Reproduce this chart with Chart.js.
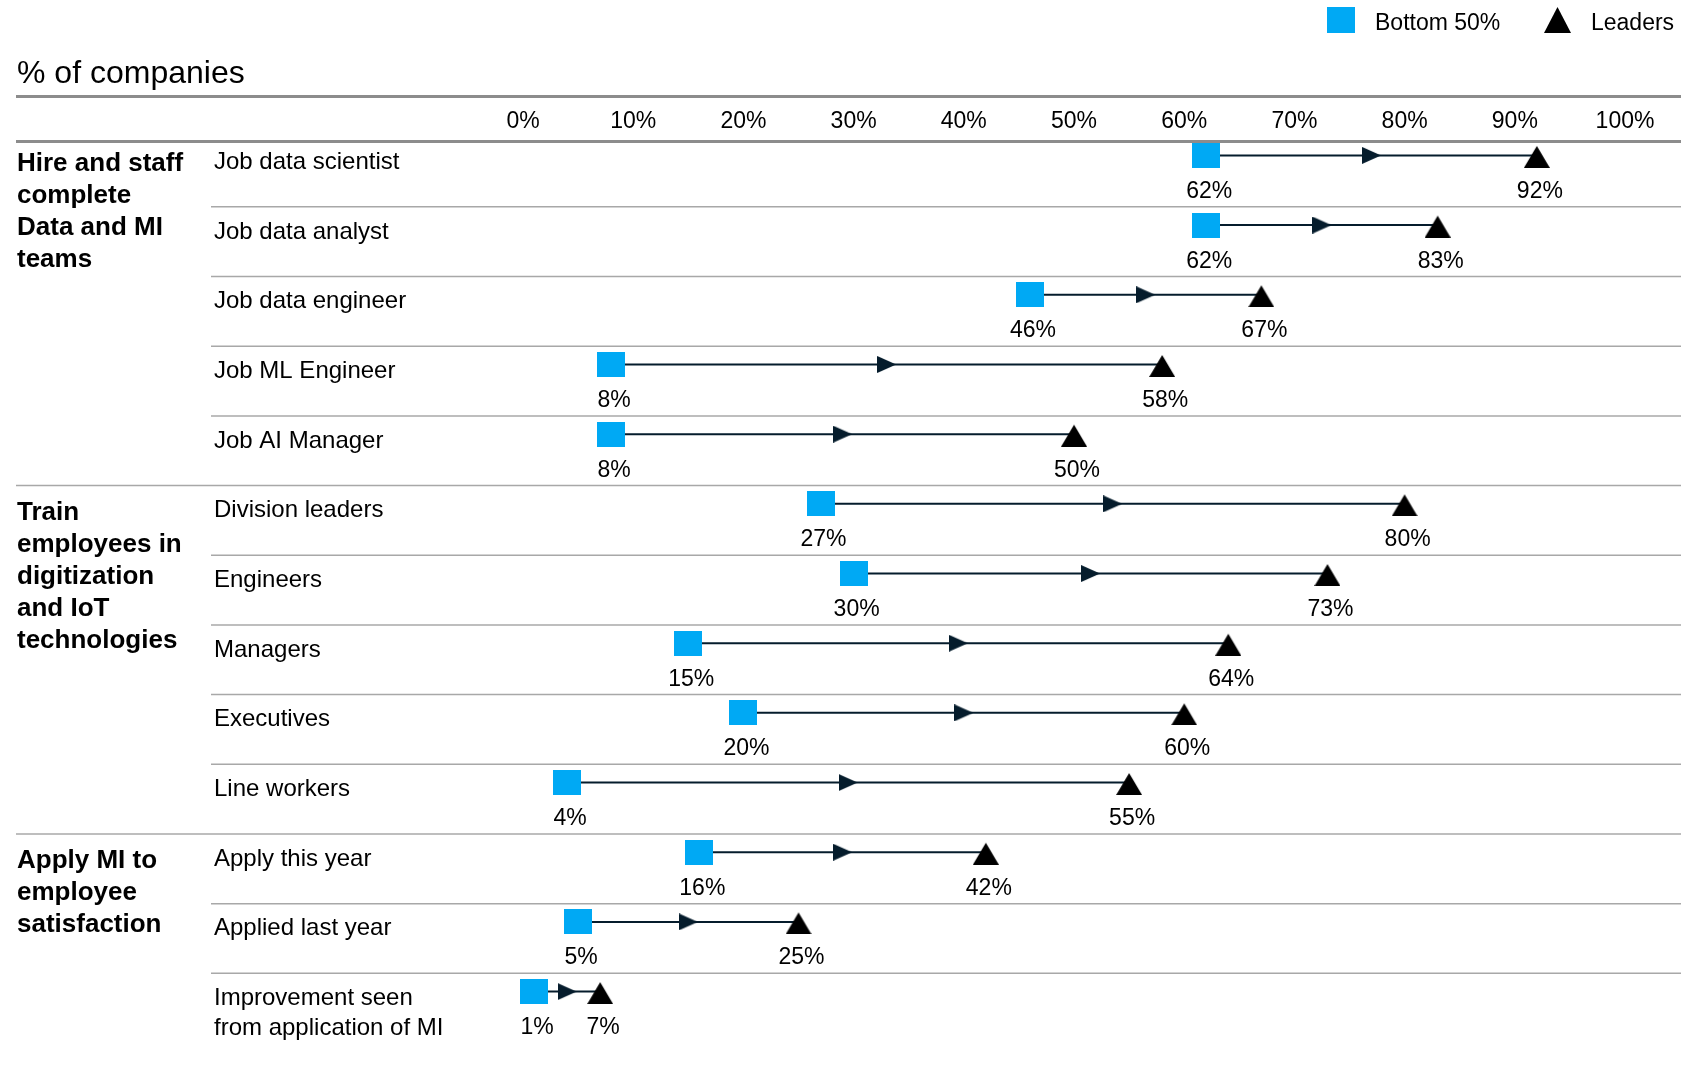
<!DOCTYPE html>
<html>
<head>
<meta charset="utf-8">
<script src="https://cdn.jsdelivr.net/npm/chart.js@4.4.1/dist/chart.umd.min.js"></script>
<style>
  html, body { margin: 0; padding: 0; background: #fff; }
  canvas { display: block; }
</style>
</head>
<body>
<canvas id="chart" width="1681" height="1086"></canvas>
<script>
// Datos de la gráfica
const rowLabels = [
  "Job data scientist", "Job data analyst", "Job data engineer", "Job ML Engineer", "Job AI Manager",
  "Division leaders", "Engineers", "Managers", "Executives", "Line workers",
  "Apply this year", "Applied last year", ["Improvement seen", "from application of MI"]
];
const bottom50 = [62, 62, 46, 8, 8, 27, 30, 15, 20, 4, 16, 5, 1];
const leaders = [92, 83, 67, 58, 50, 80, 73, 64, 60, 55, 42, 25, 7];
const groupLabels = [
  ["Hire and staff", "complete", "Data and MI", "teams"],
  ["Train", "employees in", "digitization", "and IoT", "technologies"],
  ["Apply MI to", "employee", "satisfaction"]
];
const groupStartRows = [0, 5, 10];
const tickValues = [0, 10, 20, 30, 40, 50, 60, 70, 80, 90, 100];
const seriesNames = ["Bottom 50%", "Leaders"];
const titleText = "% of companies";

const FONT = "'Liberation Sans', Arial, Helvetica, sans-serif";
const BLUE = "#00a9f4";
const NAVY = "#051c2c";

// marcadores dibujados en canvas pequeños
function makeMarker(w, h, draw) {
  const c = document.createElement("canvas");
  c.width = w; c.height = h;
  draw(c.getContext("2d"), w, h);
  return c;
}
const squareImg = makeMarker(28, 25, (g, w, h) => { g.fillStyle = BLUE; g.fillRect(0, 0, w, h); });
const triangleImg = makeMarker(26, 25, (g, w, h) => {
  g.fillStyle = "#000";
  g.beginPath(); g.moveTo(w / 2, 3); g.lineTo(w, h); g.lineTo(0, h); g.closePath(); g.fill();
});
const arrowImg = makeMarker(19, 17, (g, w, h) => {
  g.fillStyle = NAVY;
  g.beginPath(); g.moveTo(0, 0); g.lineTo(w, h / 2); g.lineTo(0, h); g.closePath(); g.fill();
});

const rows = rowLabels.map((_, i) => i);

const datasets = [
  {
    label: seriesNames[1],
    data: rows.map(i => ({ x: leaders[i], y: i })),
    pointStyle: triangleImg, pointRadius: 12, showLine: false, order: 0, clip: false
  },
  {
    label: seriesNames[0],
    data: rows.map(i => ({ x: bottom50[i], y: i })),
    pointStyle: squareImg, pointRadius: 12, showLine: false, order: 1, clip: false
  },
  {
    label: "direction",
    data: rows.map(i => ({ x: (bottom50[i] + leaders[i]) / 2, y: i })),
    pointStyle: arrowImg, pointRadius: 9, showLine: false, order: 2, clip: false
  }
].concat(rows.map(i => ({
  label: "link" + i,
  data: [{ x: bottom50[i], y: i }, { x: leaders[i], y: i }],
  showLine: true, borderColor: NAVY, borderWidth: 2, pointRadius: 0, order: 3, clip: false
})));

function hline(ctx, x1, x2, y) {
  ctx.beginPath(); ctx.moveTo(x1, y); ctx.lineTo(x2, y); ctx.stroke();
}

const decor = {
  id: "decor",
  beforeDatasetsDraw(chart) {
    const { ctx, chartArea, scales: { y } } = chart;
    ctx.save();
    ctx.strokeStyle = "#8c8c8c";
    ctx.lineWidth = 3;
    hline(ctx, 16, chart.width, 96.5);
    hline(ctx, 16, chart.width, chartArea.top);
    ctx.strokeStyle = "#a8a8a8";
    ctx.lineWidth = 1.5;
    for (let i = 0; i < rowLabels.length - 1; i++) {
      const yy = y.getPixelForValue(i + 0.738);
      const x1 = groupStartRows.includes(i + 1) ? 16 : 211;
      hline(ctx, x1, chart.width, yy);
    }
    ctx.restore();
  },
  afterDraw(chart) {
    const { ctx, scales: { x, y } } = chart;
    ctx.save();
    ctx.fillStyle = "#000";
    ctx.textBaseline = "alphabetic";

    // título
    ctx.textAlign = "left";
    ctx.font = "32px " + FONT;
    ctx.fillText(titleText, 17, 83);

    // leyenda
    ctx.font = "23px " + FONT;
    ctx.fillStyle = BLUE;
    ctx.fillRect(1327, 7, 28, 26);
    ctx.fillStyle = "#000";
    ctx.fillText(seriesNames[0], 1375, 30);
    ctx.beginPath();
    ctx.moveTo(1557.5, 7); ctx.lineTo(1571, 33); ctx.lineTo(1544, 33); ctx.closePath(); ctx.fill();
    ctx.fillText(seriesNames[1], 1591, 30);

    // etiquetas de filas
    ctx.font = "24px " + FONT;
    rowLabels.forEach((lab, i) => {
      const py = y.getPixelForValue(i);
      const lines = Array.isArray(lab) ? lab : [lab];
      lines.forEach((t, j) => ctx.fillText(t, 214, py + 13.5 + j * 30));
    });

    // etiquetas de grupos
    ctx.font = "bold 26px " + FONT;
    groupLabels.forEach((lines, g) => {
      const py = y.getPixelForValue(groupStartRows[g]);
      lines.forEach((t, j) => ctx.fillText(t, 17, py + 16 + j * 32));
    });

    // valores
    ctx.font = "23px " + FONT;
    ctx.textAlign = "center";
    rows.forEach(i => {
      const py = y.getPixelForValue(i) + 42.5;
      ctx.fillText(bottom50[i] + "%", x.getPixelForValue(bottom50[i]) + 3, py);
      ctx.fillText(leaders[i] + "%", x.getPixelForValue(leaders[i]) + 3, py);
    });
    ctx.restore();
  }
};

new Chart(document.getElementById("chart"), {
  type: "scatter",
  data: { datasets },
  options: {
    responsive: false,
    animation: false,
    events: [],
    layout: { autoPadding: false, padding: { top: 100, left: 0, right: 0, bottom: 0 } },
    plugins: { legend: { display: false }, tooltip: { enabled: false }, title: { display: false } },
    scales: {
      x: {
        type: "linear",
        position: "top",
        min: 0,
        max: 105.08,
        afterBuildTicks: (scale) => { scale.ticks = tickValues.map(v => ({ value: v })); },
        afterFit: (scale) => { scale.height = 41.5; },
        grid: { display: false, drawTicks: false },
        border: { display: false },
        ticks: {
          autoSkip: false, maxRotation: 0, padding: 6, color: "#000",
          font: { family: FONT, size: 23 },
          callback: (v) => v + "%"
        }
      },
      y: {
        type: "linear",
        reverse: true,
        min: -0.2,
        max: 13.355,
        afterFit: (scale) => { scale.width = 523; },
        grid: { display: false, drawTicks: false },
        border: { display: false },
        ticks: { display: false }
      }
    }
  },
  plugins: [decor]
});
</script>
</body>
</html>
